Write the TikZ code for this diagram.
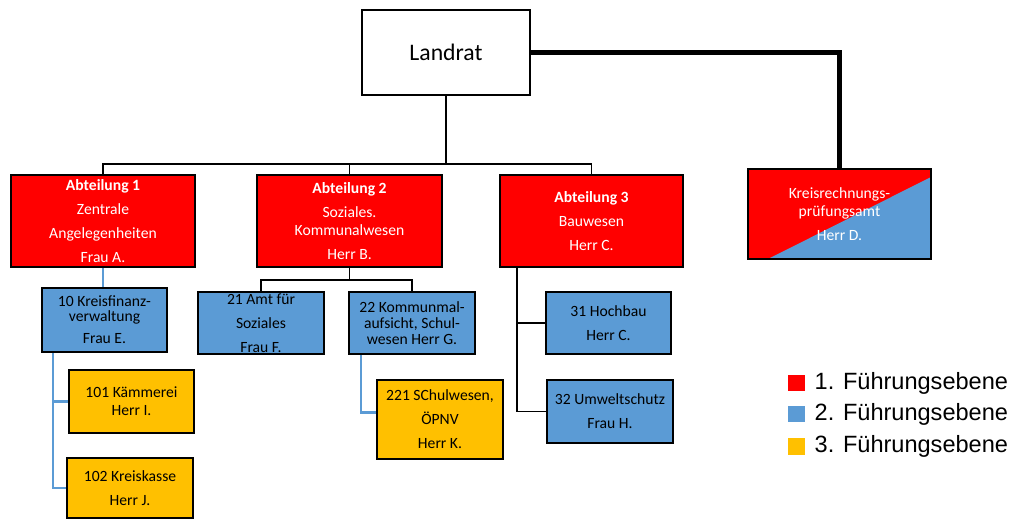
\documentclass[tikz,border=0pt]{standalone}
\usepackage{fontspec}
\setmainfont{Carlito}
\newfontfamily\legendfont{Liberation Sans}
\usetikzlibrary{positioning, calc}
\definecolor{ebene1}{RGB}{255,0,0}
\definecolor{ebene2}{RGB}{91,155,213}
\definecolor{ebene3}{RGB}{255,192,0}

\begin{document}
\begin{tikzpicture}[
    x=0.02cm, y=-0.02cm,
    % Node styles
    box/.style={rectangle, draw=black, line width=1.4pt, align=center, inner sep=0pt, font=\fontsize{8.9}{13.6}\selectfont},
    head/.style={box, fill=white, font=\fontsize{13.5}{16}\selectfont},
    abteilung/.style={box, fill=ebene1, text=white},
    sachgebiet/.style={box, fill=ebene2},
    unterbereich/.style={box, fill=ebene3},
    legend box/.style={rectangle, minimum size=0.34cm, inner sep=0pt},
    legend text/.style={font=\legendfont\fontsize{13.4}{15}\selectfont, inner sep=0pt},
    % Edge styles
    org line/.style={line width=1.1pt},
    blue line/.style={draw=ebene2, line width=1.3pt},
    thick line/.style={line width=2.6pt}
]
\useasboundingbox (0,0) rectangle (1021,520);
% Landrat
\node[head, minimum width=3.36cm, minimum height=1.7cm] (landrat) at (446,52.5) {Landrat};
% Abteilungen
\node[abteilung, minimum width=3.68cm, minimum height=1.84cm] (abt1) at (103,221) {\textbf{Abteilung 1}\\Zentrale\\Angelegenheiten\\Frau A.};
\node[abteilung, minimum width=3.7cm, minimum height=1.84cm] (abt2) at (349.5,221) {\textbf{Abteilung 2}\\Soziales.\\[-3.4pt]Kommunalwesen\\Herr B.};
\node[abteilung, minimum width=3.66cm, minimum height=1.84cm] (abt3) at (591.5,221) {\textbf{Abteilung 3}\\Bauwesen\\Herr C.};
\node[abteilung, minimum width=3.66cm, minimum height=1.8cm,
    path picture={\fill[ebene2] ($(path picture bounding box.south west)+(0.4cm,0)$) -- ($(path picture bounding box.north east)+(0,-0.16cm)$) -- (path picture bounding box.south east) -- cycle;}]
    (krpa) at (839.5,214) {Kreisrechnungs-\\[-3pt]prüfungsamt\\Herr D.};
% Sachgebiete
\node[sachgebiet, minimum width=2.5cm, minimum height=1.28cm] (sg10) at (104.5,320) {10 Kreisfinanz-\\[-5pt]verwaltung\\[-1pt]Frau E.};
\node[sachgebiet, minimum width=2.52cm, minimum height=1.24cm] (sg21) at (261,323) {21 Amt für\\Soziales\\Frau F.};
\node[sachgebiet, minimum width=2.52cm, minimum height=1.24cm] (sg22) at (412,323) {22 Kommunmal-\\[-4.5pt]aufsicht, Schul-\\[-4.5pt]wesen Herr G.};
\node[sachgebiet, minimum width=2.5cm, minimum height=1.24cm] (sg31) at (608.5,323) {31 Hochbau\\Herr C.};
\node[sachgebiet, minimum width=2.52cm, minimum height=1.26cm] (sg32) at (610,411.5) {32 Umweltschutz\\Frau H.};
% Unterbereiche
\node[unterbereich, minimum width=2.5cm, minimum height=1.26cm] (ub101) at (131.5,401.5) {101 Kämmerei\\[-3.4pt]Herr I.};
\node[unterbereich, minimum width=2.52cm, minimum height=1.2cm] (ub102) at (130,488) {102 Kreiskasse\\Herr J.};
\node[unterbereich, minimum width=2.52cm, minimum height=1.58cm] (ub221) at (440,419.5) {221 SChulwesen,\\ÖPNV\\Herr K.};
% Landrat - Abteilungen
\coordinate (bar) at ($(landrat.south)+(0,68)$);
\draw[org line] (landrat.south) -- (bar);
\draw[org line] (abt1.north) |- (bar) -| (abt3.north);
\draw[org line] (abt2.north) -- (abt2.north |- bar);
\draw[thick line] (landrat.east) -| (krpa.north);
% Abteilung 2 - Sachgebiete
\coordinate (bar2) at ($(abt2.south)+(0,12)$);
\draw[org line] (abt2.south) -- (bar2);
\draw[org line] (sg21.north) |- (bar2) -| (sg22.north);
% Abteilung 3 - Sachgebiete
\draw[org line] (abt3.south west) ++(18,0) coordinate (a3) |- (sg31.west);
\draw[org line] (a3) |- (sg32.west);
% blue connectors
\draw[blue line] (abt1.south) -- (abt1.south |- sg10.north);
\draw[blue line] (sg10.south west) ++(12,0) coordinate (a10) |- (ub101.west);
\draw[blue line] (a10) |- (ub102.west);
\draw[blue line] (sg22.south west) ++(13,0) |- ($(ub221.west)+(0,-7)$);
% Legend
\node[legend box, fill=ebene1] (leg1) at (796.5,383) {};
\node[legend text, right=0.18cm of leg1] (legt1) {1. Führungsebene};
\node[legend box, fill=ebene2] (leg2) at (796.5,414) {};
\node[legend text, right=0.18cm of leg2] (legt2) {2. Führungsebene};
\node[legend box, fill=ebene3] (leg3) at (796.5,446) {};
\node[legend text, right=0.18cm of leg3] (legt3) {3. Führungsebene};
\end{tikzpicture}
\end{document}
